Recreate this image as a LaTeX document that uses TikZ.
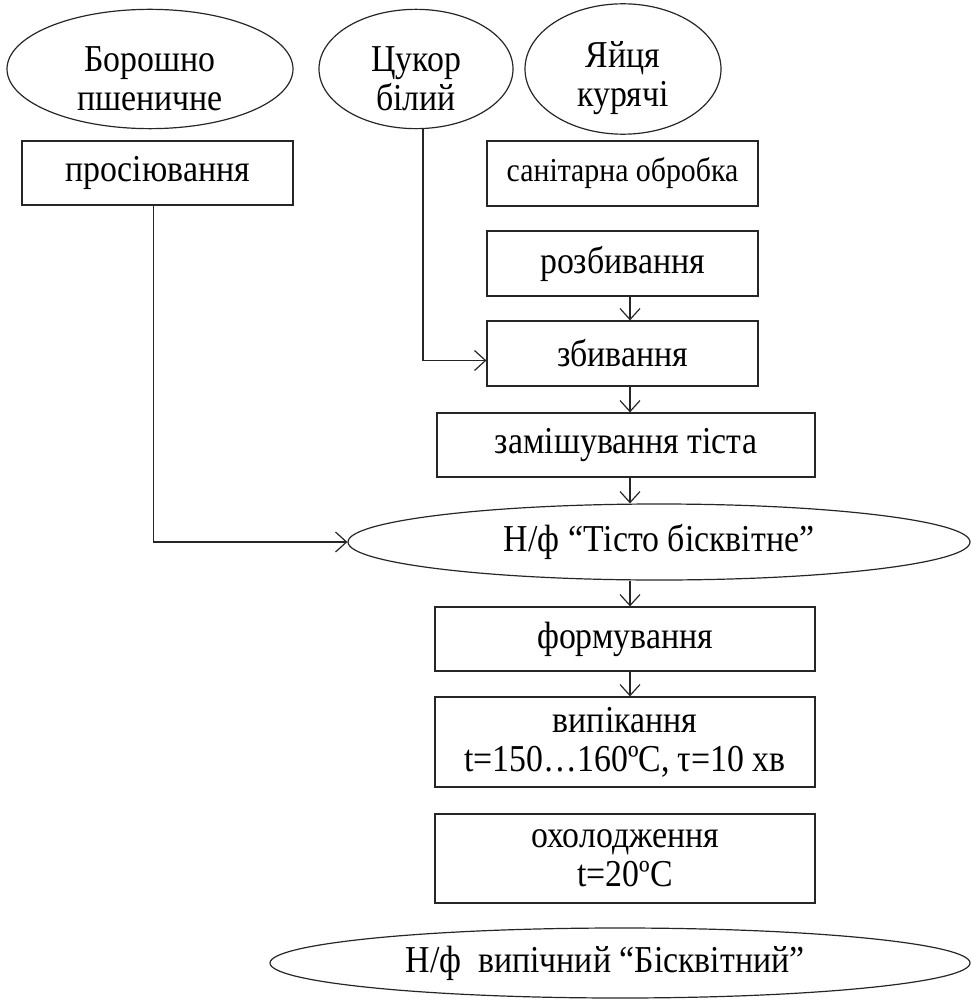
\documentclass[tikz,border=0pt]{standalone}
\usepackage{fontspec}
\setmainfont[FakeStretch=0.89]{Liberation Serif}
\usetikzlibrary{shapes.geometric,arrows.meta}
\newcommand{\tallstrut}{\rule{0pt}{45pt}}
\begin{document}
\begin{tikzpicture}[x=1pt,y=-1pt,
  every node/.style={font=\fontsize{38}{39}\selectfont, inner sep=0pt, align=center},
  procbox/.style={draw=black!85, line width=1.2pt, rectangle},
  oval/.style={draw=black!85, line width=1.2pt, ellipse},
  arr/.style={draw=black!85, line width=1.2pt, -{Straight Barb[length=11pt,width=20pt,line width=1.2pt]}},
  link/.style={draw=black!85, line width=1.2pt}
]
\useasboundingbox (0,0) rectangle (971,1000);
\coordinate (ax) at (630,0);

\node[oval, minimum width=286pt, minimum height=118pt] (e1) at (150,69) {\tallstrut Борошно\\пшеничне};
\node[oval, minimum width=194pt, minimum height=118pt] (e2) at (416,69) {\tallstrut Цукор\\білий};
\node[oval, minimum width=196pt, minimum height=118pt] (e3) at (623,69) {\tallstrut Яйця\\курячі};

\node[procbox, minimum width=271pt, minimum height=64pt] (r1) at (157.5,173) {просіювання};
\node[procbox, minimum width=271pt, minimum height=65pt, font=\fontsize{33.5}{36}\selectfont] (r2) at (622.5,173.5) {санітарна обробка};
\node[procbox, minimum width=271pt, minimum height=65pt] (r3) at (622.5,263.5) {розбивання};
\node[procbox, minimum width=271pt, minimum height=65pt] (r4) at (622.5,353.5) {збивання};
\node[procbox, minimum width=378pt, minimum height=64pt] (r5) at (626,445) {замішування тіста};
\node[oval, minimum width=622pt, minimum height=76pt] (e4) at (659,542) {Н/ф “Тісто бісквітне”};
\node[procbox, minimum width=380pt, minimum height=64pt] (r6) at (625,639) {формування};
\node[procbox, minimum width=380pt, minimum height=90pt] (r7) at (625,742) {випікання\\t=150…160ºC, τ=10 хв};
\node[procbox, minimum width=380pt, minimum height=89pt] (r8) at (625,858.5) {охолодження\\t=20ºC};
\node[oval, minimum width=700pt, minimum height=70pt] (e5) at (620,963) {Н/ф~~випічний “Бісквітний”\hspace*{30pt}};

\draw[arr] ([xshift=-4pt]r1.south) |- (e4.west);
\draw[arr] ([xshift=7pt]e2.south) |- ([yshift=-7pt]r4.west);
\draw[arr] (r3.south -| ax) -- (r4.north -| ax);
\draw[arr] (r4.south -| ax) -- (r5.north -| ax);
\draw[arr] (r5.south -| ax) -- (e4.north -| ax);
\draw[arr] (e4.south -| ax) -- (r6.north -| ax);
\draw[arr] (r6.south -| ax) -- (r7.north -| ax);
\end{tikzpicture}
\end{document}
